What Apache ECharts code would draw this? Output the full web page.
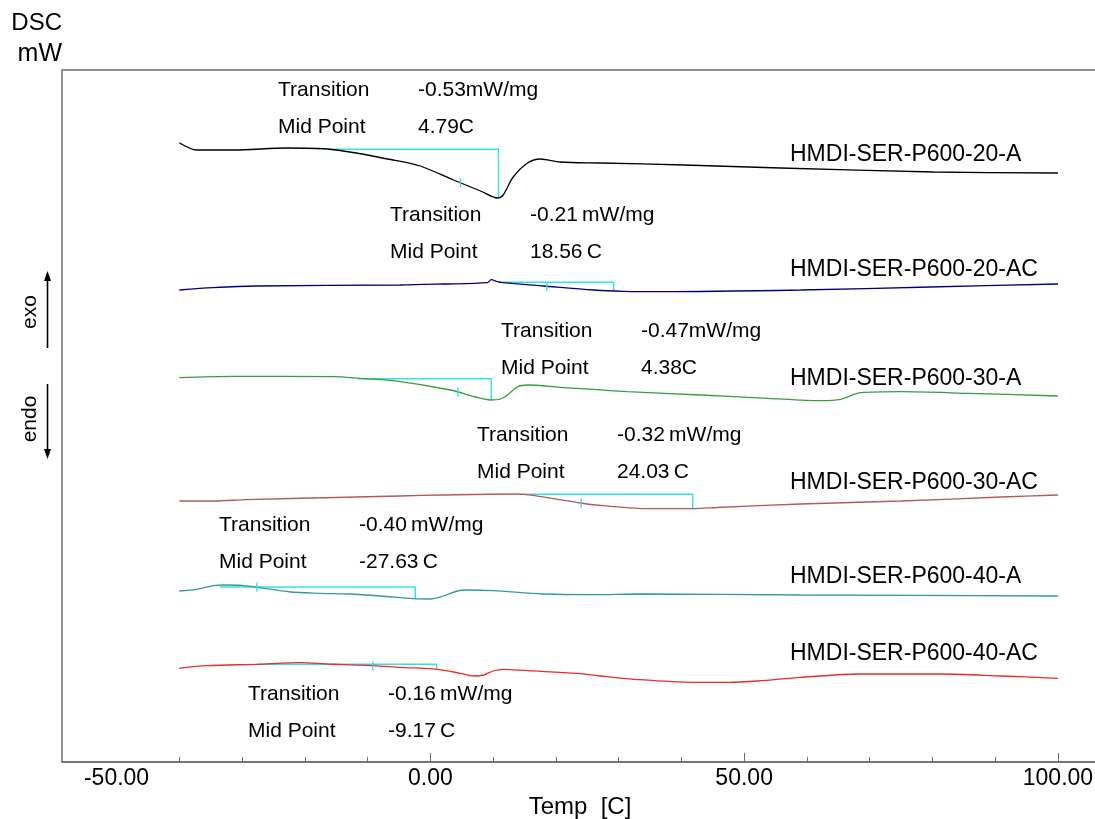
<!DOCTYPE html>
<html>
<head>
<meta charset="utf-8">
<script src="https://cdn.jsdelivr.net/npm/echarts@6/dist/echarts.min.js"></script>
<style>
  html, body { margin: 0; padding: 0; background: #fff; }
  #chart { width: 1095px; height: 819px; }
</style>
</head>
<body>
<div id="chart"></div>
<script>
// DSC heating scans, curves stacked with vertical offsets (signal in arbitrary offset units)
const sampleNames = [
  'HMDI-SER-P600-20-A', 'HMDI-SER-P600-20-AC', 'HMDI-SER-P600-30-A',
  'HMDI-SER-P600-30-AC', 'HMDI-SER-P600-40-A', 'HMDI-SER-P600-40-AC'
];
const curveColors = ['#000000', '#000080', '#3A9D3A', '#B05A5A', '#339999', '#F02828'];

// temperature [C] and signal per sample
const temp20A = [-40, -37.2, -31.4, -22.8, -16.4, -5.9, -1.6, 3.7, 8.0, 10.7, 11.6, 13.2, 15.5, 17.5, 20.7, 27.1, 40.4, 55.8, 80.2, 100];
const sig20A  = [61.93, 61.2, 61.2, 61.4, 61.3, 60.2, 59.6, 58.2, 57.1, 56.4, 56.7, 58.5, 59.9, 60.3, 60.0, 59.9, 59.7, 59.4, 59.0, 58.9];

const temp20AC = [-40, -34.6, -27.9, -4.8, 2.1, 9.1, 9.7, 10.7, 11.6, 18.0, 26.0, 30.8, 36.7, 59.0, 79.7, 100];
const sig20AC  = [47.2, 47.43, 47.6, 47.7, 47.8, 47.93, 48.23, 48.03, 47.93, 47.6, 47.2, 47.07, 47.03, 47.2, 47.5, 47.8];

const temp30A = [-40, -31.4, -15.5, -11.2, -5.9, 3.2, 7.2, 9.6, 11.2, 12.3, 13.9, 15.5, 20.7, 31.4, 43.1, 53.7, 62.2, 65.4, 68.6, 75.0, 85.6, 100];
const sig30A  = [38.43, 38.57, 38.53, 38.37, 38.13, 37.2, 36.5, 36.2, 36.3, 36.7, 37.53, 37.7, 37.47, 37.03, 36.7, 36.37, 36.13, 36.27, 36.93, 37.03, 36.87, 36.6];

const temp30AC = [-40, -34.4, -29.3, -15.2, -4.9, 1.9, 13.4, 15.0, 19.6, 23.9, 27.6, 34.9, 41.8, 45.8, 59.0, 75.0, 90.9, 100];
const sig30AC  = [26.1, 26.1, 26.24, 26.45, 26.6, 26.7, 26.8, 26.77, 26.34, 25.9, 25.63, 25.34, 25.34, 25.45, 25.8, 26.1, 26.5, 26.7];

const temp40A = [-40, -37.2, -34.6, -33.0, -30.0, -27.6, -22.3, -17.5, -13.2, -8.0, -2.7, 0, 2.1, 4.3, 5.9, 10.0, 18.0, 26.0, 33.5, 59.0, 100];
const sig40A  = [17.1, 17.27, 17.63, 17.7, 17.67, 17.47, 17.0, 16.87, 16.8, 16.6, 16.33, 16.3, 16.6, 17.1, 17.2, 17.13, 16.8, 16.73, 16.8, 16.7, 16.6];

const temp40AC = [-40, -35.6, -27.6, -20.7, -16.4, -9.1, -4.8, 1.1, 4.8, 6.9, 8.5, 10.0, 11.6, 15.5, 23.4, 27.1, 32.4, 41.9, 47.5, 52.2, 59.0, 68.6, 81.3, 90.9, 100];
const sig40AC  = [9.37, 9.63, 9.77, 9.93, 9.8, 9.63, 9.47, 9.27, 8.87, 8.6, 8.7, 9.1, 9.27, 9.13, 8.87, 8.6, 8.27, 7.97, 7.97, 8.1, 8.47, 8.8, 8.8, 8.6, 8.37];

const curveTemps = [temp20A, temp20AC, temp30A, temp30AC, temp40A, temp40AC];
const curveSignals = [sig20A, sig20AC, sig30A, sig30AC, sig40A, sig40AC];

// glass transition evaluation: step height [mW/mg] and midpoint [C]
const transitionValues = ['-0.53', '-0.21', '-0.47', '-0.32', '-0.40', '-0.16'];
const midPointValues = [4.79, 18.56, 4.38, 24.03, -27.63, -9.17];
const unitSpaced = [false, true, false, true, true, true];
// evaluation construction: onset temp, end temp, baseline level, level at end of step
const evalStart = [-16.3, 11.6, -11.5, 15.0, -33.5, -27.6];
const evalEnd = [10.85, 29.2, 9.7, 41.8, -2.4, 1.0];
const evalLevel = [61.27, 47.97, 38.33, 26.77, 17.5, 9.77];
const evalBottom = [56.4, 47.1, 36.2, 25.34, 16.3, 9.27];

// axis ticks
const minorTicks = [-40, -30, -20, -10, 10, 20, 30, 40, 60, 70, 80, 90];
const majorTicks = [0, 50, 100];
const tickLabels = [-50, 0, 50, 100];

// layout of text blocks (pixels)
const evalTextPos = [[278, 90], [390, 215], [501, 331], [477, 435], [219, 525], [248, 694]];
const nameTextY = [155, 270, 379, 483, 577, 654];

const FONT = "'Liberation Sans', Arial, sans-serif";
const CYAN = '#30E4E4';

function interp(xs, ys, x) {
  for (let i = 0; i < xs.length - 1; i++) {
    if (x >= xs[i] && x <= xs[i + 1]) {
      const t = (x - xs[i]) / (xs[i + 1] - xs[i]);
      return ys[i] + t * (ys[i + 1] - ys[i]);
    }
  }
  return ys[ys.length - 1];
}

const series = [];
curveTemps.forEach((ts, i) => {
  series.push({
    type: 'line',
    name: sampleNames[i],
    data: ts.map((t, k) => [t, curveSignals[i][k]]),
    showSymbol: false,
    smooth: 0.3,
    lineStyle: { color: curveColors[i], width: 1.3 },
    z: 3,
    silent: true
  });
  // baseline and step construction
  series.push({
    type: 'line',
    data: [[evalStart[i], evalLevel[i]], [evalEnd[i], evalLevel[i]], [evalEnd[i], evalBottom[i]]],
    showSymbol: false,
    lineStyle: { color: CYAN, width: 1.4 },
    z: 2,
    silent: true
  });
  // midpoint marker crossing the curve
  const c = interp(ts, curveSignals[i], midPointValues[i]);
  series.push({
    type: 'line',
    data: [[midPointValues[i], c + 0.45], [midPointValues[i], c - 0.45]],
    showSymbol: false,
    lineStyle: { color: CYAN, width: 1.4 },
    z: 4,
    silent: true
  });
});

const graphics = [];
function txt(x, y, s, size, align) {
  graphics.push({
    type: 'text', x: x, y: y, silent: true,
    style: { text: s, font: size + 'px ' + FONT, fill: '#000', textAlign: align || 'left', textVerticalAlign: 'middle' }
  });
}
txt(62, 23, 'DSC', 24, 'right');
txt(62, 54, 'mW', 25, 'right');

evalTextPos.forEach((p, i) => {
  const sp = unitSpaced[i] ? '\u2009' : '';
  txt(p[0], p[1], 'Transition', 21);
  txt(p[0] + 140, p[1], transitionValues[i] + sp + 'mW/mg', 21);
  txt(p[0], p[1] + 37, 'Mid Point', 21);
  txt(p[0] + 140, p[1] + 37, midPointValues[i].toFixed(2) + sp + 'C', 21);
});
sampleNames.forEach((n, i) => txt(790, nameTextY[i], n, 23));

// exo / endo direction markers
graphics.push({
  type: 'text', x: 30, y: 312, rotation: Math.PI / 2, silent: true,
  style: { text: 'exo', font: '21px ' + FONT, fill: '#000', textAlign: 'center', textVerticalAlign: 'middle' }
});
graphics.push({
  type: 'text', x: 30, y: 419, rotation: Math.PI / 2, silent: true,
  style: { text: 'endo', font: '21px ' + FONT, fill: '#000', textAlign: 'center', textVerticalAlign: 'middle' }
});
graphics.push({ type: 'line', silent: true, shape: { x1: 47.5, y1: 348, x2: 47.5, y2: 278 }, style: { stroke: '#000', lineWidth: 1.6 } });
graphics.push({ type: 'polygon', silent: true, shape: { points: [[47.5, 271], [44, 281], [51, 281]] }, style: { fill: '#000' } });
graphics.push({ type: 'line', silent: true, shape: { x1: 47.5, y1: 384, x2: 47.5, y2: 452 }, style: { stroke: '#000', lineWidth: 1.6 } });
graphics.push({ type: 'polygon', silent: true, shape: { points: [[47.5, 459], [44, 449], [51, 449]] }, style: { fill: '#000' } });

const chart = echarts.init(document.getElementById('chart'), null, { renderer: 'canvas' });
chart.setOption({
  animation: false,
  backgroundColor: '#ffffff',
  grid: {
    left: 62, right: -3, top: 70, bottom: 57,
    outerBoundsMode: 'none', containLabel: false,
    show: true, borderColor: '#6E6E6E', borderWidth: 1.5, backgroundColor: 'transparent'
  },
  xAxis: [
    {
      type: 'value', min: -58.69, max: 106.38,
      axisLine: { show: true, lineStyle: { color: '#6E6E6E', width: 1.5 } },
      axisTick: { show: true, inside: true, length: 5, customValues: minorTicks, lineStyle: { color: '#6E6E6E', width: 1 } },
      axisLabel: { show: false },
      splitLine: { show: false },
      name: 'Temp  [C]', nameLocation: 'middle', nameGap: 33,
      nameTextStyle: { fontFamily: FONT, fontSize: 24, color: '#000' }
    },
    {
      type: 'value', position: 'bottom', min: -58.69, max: 106.38,
      axisLine: { show: false },
      axisTick: { show: true, inside: true, length: 9, customValues: majorTicks, lineStyle: { color: '#6E6E6E', width: 1 } },
      axisLabel: {
        show: true, customValues: tickLabels, margin: 5,
        formatter: v => v.toFixed(2),
        fontFamily: FONT, fontSize: 23, color: '#000'
      },
      splitLine: { show: false }
    }
  ],
  yAxis: {
    type: 'value', min: 0, max: 69.2,
    axisLine: { show: false }, axisTick: { show: false }, axisLabel: { show: false }, splitLine: { show: false }
  },
  series: series,
  graphic: graphics
});
</script>
</body>
</html>
